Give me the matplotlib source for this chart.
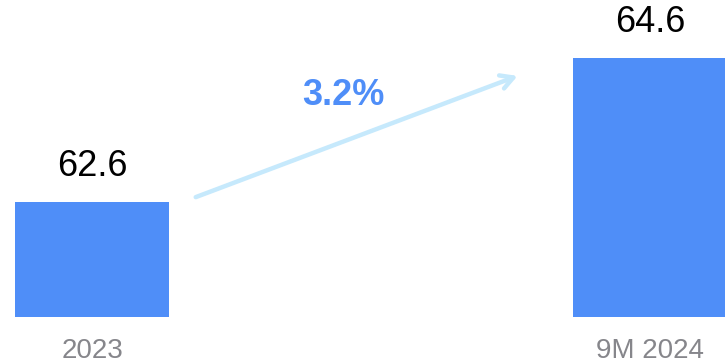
import matplotlib.pyplot as plt

periods = ["2023", "9M 2024"]
values = [62.6, 64.6]

bar_color = "#4f8ef8"
arrow_color = "#c6e9fc"
label_color = "#86868b"

plt.rcParams["font.family"] = ["Liberation Sans", "DejaVu Sans"]

fig = plt.figure(figsize=(7.25, 3.64), dpi=100)
ax = fig.add_axes([0, 47 / 364, 1, 317 / 364])

x = list(range(len(values)))
bar_width = 0.276
ax.bar(x, values, width=bar_width, color=bar_color)

for xi, v in zip(x, values):
    ax.annotate(f"{v:.1f}", (xi, v), xytext=(0, 13), textcoords="offset points",
                ha="center", va="bottom", fontsize=26, color="black")

# period labels below the bars
for xi, name in zip(x, periods):
    ax.annotate(name, (xi, 0), xycoords=("data", "axes fraction"),
                xytext=(0, -15), textcoords="offset points",
                ha="center", va="top", fontsize=20, color=label_color)

ax.set_xlim(-0.165, 1.134)
ax.set_ylim(61.0, 65.4)

# growth arrow between the two periods
growth = (values[1] / values[0] - 1) * 100
ax.annotate("", xy=(0.767, 64.36), xytext=(0.181, 62.65),
            arrowprops=dict(arrowstyle="->,head_length=0.9,head_width=0.5",
                            color=arrow_color, lw=3.2, capstyle="round"))
ax.text(0.451, 64.07, f"{growth:.1f}%", ha="center", va="center",
        fontsize=26, fontweight="bold", color=bar_color)

ax.axis("off")
fig.savefig("out.png", dpi=100)
